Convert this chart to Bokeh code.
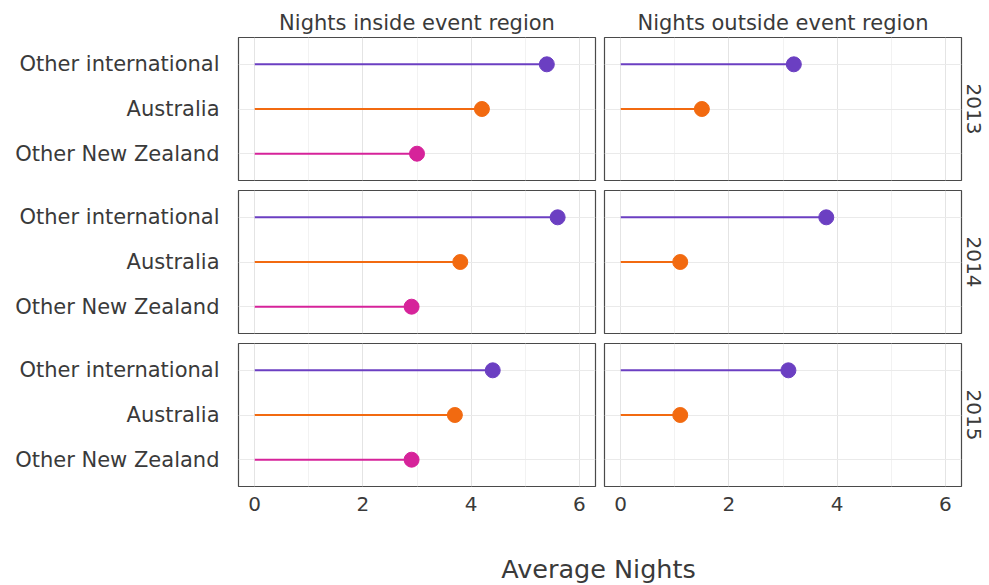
import math
from bokeh.plotting import figure
from bokeh.layouts import gridplot, column
from bokeh.models import (Range1d, FixedTicker, LinearAxis, Grid, Title, Label,
                          ColumnDataSource)
from bokeh.embed import file_html
from bokeh.resources import INLINE

NaN = float("nan")

# ---- data ----
categories = ["Other New Zealand", "Australia", "Other international"]
cat_colors = ["#D6239A", "#F26A10", "#6B3FC2"]
years = ["2013", "2014", "2015"]
regions = ["Nights inside event region", "Nights outside event region"]
x_ticks = [0, 2, 4, 6]
x_minor = [1, 3, 5]

inside_2013 = [3.0, 4.2, 5.4]
inside_2014 = [2.9, 3.8, 5.6]
inside_2015 = [2.9, 3.7, 4.4]
outside_2013 = [NaN, 1.5, 3.2]
outside_2014 = [NaN, 1.1, 3.8]
outside_2015 = [NaN, 1.1, 3.1]

panels = [[inside_2013, outside_2013],
          [inside_2014, outside_2014],
          [inside_2015, outside_2015]]

FONT = "DejaVu Sans"
TXT = "#3a3a3a"
ypos = list(range(1, len(categories) + 1))

def make_panel(vals, r, c):
    p = figure(frame_width=357, frame_height=143,
               x_range=Range1d(-0.3, 6.3), y_range=Range1d(0.4, 3.6),
               x_axis_location=None, y_axis_location=None,
               title_location=None, toolbar_location=None,
               output_backend="svg",
               min_border_left=238 if c == 0 else 4,
               min_border_right=5 if c == 0 else 26,
               min_border_top=37 if r == 0 else 5,
               min_border_bottom=35 if r == 2 else 5,
               outline_line_color="#4a4a4a", outline_line_width=1.2,
               background_fill_color="white", border_fill_color="white")
    for gr in p.grid:
        gr.visible = False
    p.add_layout(Grid(dimension=0, ticker=FixedTicker(ticks=x_ticks, minor_ticks=x_minor),
                      grid_line_color="#e4e4e4", grid_line_width=1,
                      minor_grid_line_color="#f2f2f2", minor_grid_line_width=1))
    p.add_layout(Grid(dimension=1, ticker=FixedTicker(ticks=ypos),
                      grid_line_color="#eaeaea", grid_line_width=1))
    src = ColumnDataSource(dict(y=ypos, zero=[0] * len(vals), val=vals, color=cat_colors))
    p.segment(x0="zero", y0="y", x1="val", y1="y", line_color="color",
              line_width=2, source=src)
    p.scatter(x="val", y="y", size=15, fill_color="color", line_color="color", source=src)

    if c == 0:
        yax = LinearAxis(ticker=FixedTicker(ticks=ypos),
                         major_label_overrides={y: cat for y, cat in zip(ypos, categories)},
                         axis_line_color=None, major_tick_line_color=None,
                         minor_tick_line_color=None, major_tick_out=0,
                         major_label_standoff=19,
                         major_label_text_font=FONT, major_label_text_font_size="21px",
                         major_label_text_color=TXT)
        p.add_layout(yax, "left")
    if r == 2:
        xax = LinearAxis(ticker=FixedTicker(ticks=x_ticks),
                         axis_line_color=None, major_tick_line_color=None,
                         minor_tick_line_color=None, major_tick_out=0,
                         major_label_standoff=10,
                         major_label_text_font=FONT, major_label_text_font_size="20px",
                         major_label_text_color=TXT)
        p.add_layout(xax, "below")
    if r == 0:
        p.add_layout(Title(text=regions[c], align="center", text_font=FONT,
                           text_font_size="21px", text_font_style="normal",
                           text_color=TXT, standoff=5), "above")
    if c == 1:
        p.add_layout(Title(text=years[r], align="center", text_font=FONT,
                           text_font_size="20px", text_font_style="normal",
                           text_color=TXT, standoff=10), "right")
    return p

grid = [[make_panel(panels[r][c], r, c) for c in range(2)] for r in range(3)]
g = gridplot(grid, toolbar_location=None)

bottom = figure(width=985, height=62, x_range=Range1d(0, 1), y_range=Range1d(0, 1),
                x_axis_location=None, y_axis_location=None, title_location=None,
                toolbar_location=None, output_backend="svg", min_border=0,
                outline_line_color=None)
for gr in bottom.grid:
    gr.visible = False
bottom.add_layout(Label(x=598, y=15, x_units="screen", y_units="screen",
                        text="Average Nights", text_font=FONT, text_font_size="25.5px",
                        text_color=TXT, text_align="center", text_baseline="middle"))

layout = column(g, bottom)
open("out.html", "w").write(file_html(layout, INLINE))
